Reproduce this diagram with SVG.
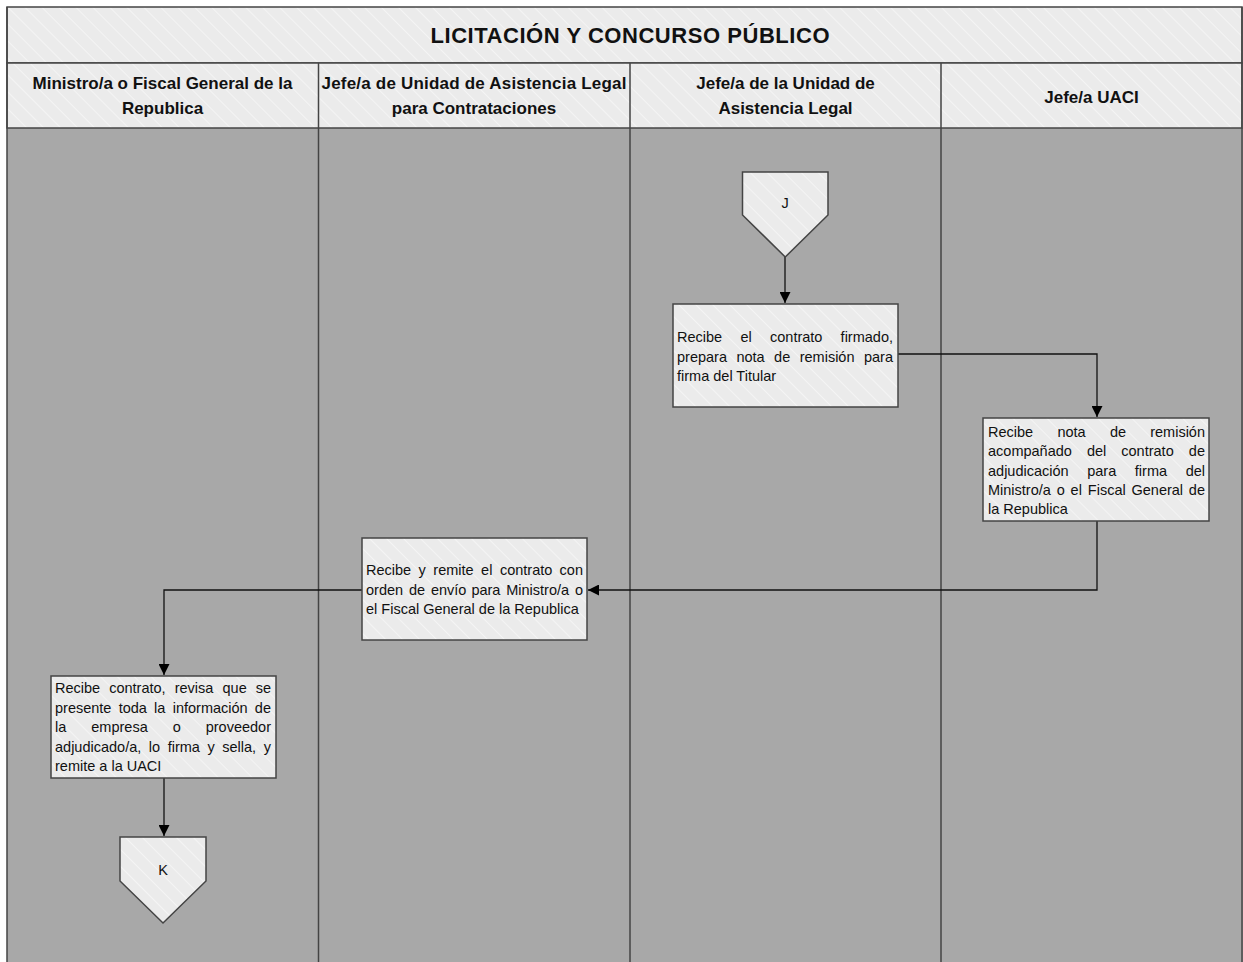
<svg xmlns="http://www.w3.org/2000/svg" width="1243" height="962" viewBox="0 0 1243 962">
<style>
.hdr{fill:url(#hatch);stroke:#444;stroke-width:1.5}
.lane{fill:#a8a8a8}
.div{stroke:#444;stroke-width:1.5;fill:none}
.box{fill:url(#hatch);stroke:#444;stroke-width:1.5}
.t{font-family:"Liberation Sans",Arial,sans-serif;font-size:14.5px;fill:#111}
.h{font-family:"Liberation Sans",Arial,sans-serif;font-size:17px;font-weight:bold;fill:#111;text-anchor:middle}
.ti{font-family:"Liberation Sans",Arial,sans-serif;font-size:22px;font-weight:bold;fill:#111;text-anchor:middle}
.e{text-anchor:end}
.c{text-anchor:middle}
.con{stroke:#111;stroke-width:1.3;fill:none;marker-end:url(#arr)}
</style>
<defs>
<pattern id="hatch" patternUnits="userSpaceOnUse" width="12" height="12" patternTransform="rotate(-45)">
<rect width="12" height="12" fill="#ebebeb"/>
<line x1="0" y1="0" x2="0" y2="12" stroke="#f4f4f4" stroke-width="2"/>
</pattern>
<marker id="arr" markerUnits="userSpaceOnUse" markerWidth="11" markerHeight="11" refX="11" refY="5.5" orient="auto">
<path d="M0,0 L11,5.5 L0,11 z" fill="#000"/>
</marker>
</defs>
<rect x="0" y="0" width="1243" height="962" fill="#fff"/>
<g id="pool">
<rect class="lane" x="7" y="128" width="1236" height="840"/>
<rect class="hdr" x="7" y="7" width="1235" height="56"/>
<rect class="hdr" x="7" y="63" width="1235" height="65"/>
<path class="div" d="M7,7 V970 M318.5,63 V970 M630,63 V970 M941,63 V970 M1242,7 V970"/>
<text class="ti" x="630" y="43" textLength="399" lengthAdjust="spacing">LICITACIÓN Y CONCURSO PÚBLICO</text>
</g>
<g id="lane1-header">
<text class="h" x="162.5" y="89">Ministro/a o Fiscal General de la</text>
<text class="h" x="162.5" y="114">Republica</text>
</g>
<g id="lane2-header">
<text class="h" x="474" y="89" textLength="305" lengthAdjust="spacing">Jefe/a de Unidad de Asistencia Legal</text>
<text class="h" x="474" y="114">para Contrataciones</text>
</g>
<g id="lane3-header">
<text class="h" x="785.5" y="89">Jefe/a de la Unidad de</text>
<text class="h" x="785.5" y="114">Asistencia Legal</text>
</g>
<g id="lane4-header">
<text class="h" x="1091.5" y="103">Jefe/a UACI</text>
</g>
<g id="connectors">
<path class="con" d="M785,257 V303"/>
<path class="con" d="M898,354 H1097 V417"/>
<path class="con" d="M1097,521 V590 H588"/>
<path class="con" d="M362,590 H164 V675"/>
<path class="con" d="M164,778 V836"/>
</g>
<g id="node-J">
<path class="box" d="M742.5,172 H828 V215 L785.25,257 L742.5,215 Z"/>
<text class="t c" x="785" y="208" font-size="13.5">J</text>
</g>
<g id="node-recibe-firmado">
<rect class="box" x="673" y="304" width="225" height="103"/>
<text class="t" x="677" y="342">Recibe</text>
<text class="t" x="740.4" y="342">el</text>
<text class="t" x="770" y="342">contrato</text>
<text class="t e" x="893" y="342">firmado,</text>
<text class="t" x="677" y="361.5">prepara</text>
<text class="t" x="736.4" y="361.5">nota</text>
<text class="t" x="774.1" y="361.5">de</text>
<text class="t" x="799.7" y="361.5">remisión</text>
<text class="t e" x="893" y="361.5">para</text>
<text class="t" x="677" y="381">firma del Titular</text>
</g>
<g id="node-recibe-nota">
<rect class="box" x="983" y="418" width="226" height="103"/>
<text class="t" x="988" y="437">Recibe</text>
<text class="t" x="1057.4" y="437">nota</text>
<text class="t" x="1109.9" y="437">de</text>
<text class="t e" x="1205" y="437">remisión</text>
<text class="t" x="988" y="456">acompañado</text>
<text class="t" x="1086.9" y="456">del</text>
<text class="t" x="1121.3" y="456">contrato</text>
<text class="t e" x="1205" y="456">de</text>
<text class="t" x="988" y="475.5">adjudicación</text>
<text class="t" x="1087.2" y="475.5">para</text>
<text class="t" x="1134.8" y="475.5">firma</text>
<text class="t e" x="1205" y="475.5">del</text>
<text class="t" x="988" y="495">Ministro/a</text>
<text class="t" x="1056.7" y="495">o</text>
<text class="t" x="1070.6" y="495">el</text>
<text class="t" x="1087.8" y="495">Fiscal</text>
<text class="t" x="1131.5" y="495">General</text>
<text class="t e" x="1205" y="495">de</text>
<text class="t" x="988" y="514">la Republica</text>
</g>
<g id="node-recibe-remite">
<rect class="box" x="362" y="538" width="225" height="102"/>
<text class="t" x="366" y="575">Recibe</text>
<text class="t" x="418.6" y="575">y</text>
<text class="t" x="433.3" y="575">remite</text>
<text class="t" x="481.1" y="575">el</text>
<text class="t" x="499.9" y="575">contrato</text>
<text class="t e" x="583" y="575">con</text>
<text class="t" x="366" y="594.5">orden</text>
<text class="t" x="408.9" y="594.5">de</text>
<text class="t" x="430.9" y="594.5">envío</text>
<text class="t" x="471.4" y="594.5">para</text>
<text class="t" x="506.2" y="594.5">Ministro/a</text>
<text class="t e" x="583" y="594.5">o</text>
<text class="t" x="366" y="614">el Fiscal General de la Republica</text>
</g>
<g id="node-recibe-contrato">
<rect class="box" x="51" y="676" width="225" height="102"/>
<text class="t" x="55" y="693">Recibe</text>
<text class="t" x="109.2" y="693">contrato,</text>
<text class="t" x="174.7" y="693">revisa</text>
<text class="t" x="222.5" y="693">que</text>
<text class="t e" x="271" y="693">se</text>
<text class="t" x="55" y="712.5">presente</text>
<text class="t" x="118.7" y="712.5">toda</text>
<text class="t" x="154.1" y="712.5">la</text>
<text class="t" x="172.7" y="712.5">información</text>
<text class="t e" x="271" y="712.5">de</text>
<text class="t" x="55" y="732">la</text>
<text class="t" x="91.3" y="732">empresa</text>
<text class="t" x="172.7" y="732">o</text>
<text class="t e" x="271" y="732">proveedor</text>
<text class="t" x="55" y="751.5">adjudicado/a,</text>
<text class="t" x="148.8" y="751.5">lo</text>
<text class="t" x="167.7" y="751.5">firma</text>
<text class="t" x="207.5" y="751.5">y</text>
<text class="t" x="222.3" y="751.5">sella,</text>
<text class="t e" x="271" y="751.5">y</text>
<text class="t" x="55" y="771">remite a la UACI</text>
</g>
<g id="node-K">
<path class="box" d="M120,837 H206 V881 L163,923 L120,881 Z"/>
<text class="t c" x="163" y="875" font-size="13.5">K</text>
</g>
</svg>
